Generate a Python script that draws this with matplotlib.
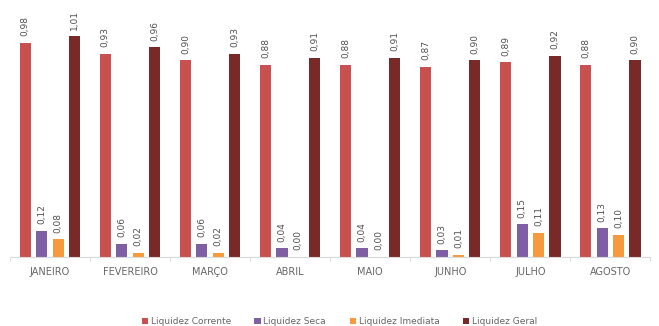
import matplotlib
matplotlib.use("Agg")
import matplotlib.pyplot as plt
import numpy as np

months = ["JANEIRO", "FEVEREIRO", "MARÇO", "ABRIL", "MAIO", "JUNHO", "JULHO", "AGOSTO"]
series_names = ["Liquidez Corrente", "Liquidez Seca", "Liquidez Imediata", "Liquidez Geral"]
corrente = [0.98, 0.93, 0.90, 0.88, 0.88, 0.87, 0.89, 0.88]
seca = [0.12, 0.06, 0.06, 0.04, 0.04, 0.03, 0.15, 0.13]
imediata = [0.08, 0.02, 0.02, 0.00, 0.00, 0.01, 0.11, 0.10]
geral = [1.01, 0.96, 0.93, 0.91, 0.91, 0.90, 0.92, 0.90]
colors = ["#C8504E", "#7E5FA3", "#F59A3E", "#772A28"]

fig = plt.figure(figsize=(6.59, 3.26), dpi=100)
ax = fig.add_axes([0.015, 0.212, 0.972, 0.775])

x = np.arange(len(months))
width = 0.14
step = 0.205
offsets = (np.arange(4) - 1.5) * step
data = [corrente, seca, imediata, geral]
for i, (vals, name, c) in enumerate(zip(data, series_names, colors)):
    bars = ax.bar(x + offsets[i], vals, width, color=c, label=name)
    for b, v in zip(bars, vals):
        ax.text(b.get_x() + b.get_width() / 2, v + 0.03, f"{v:.2f}".replace(".", ","),
                rotation=90, ha="center", va="bottom", fontsize=6.5, color="#505050")

ax.set_xlim(-0.5, len(months) - 0.5)
ax.set_ylim(0, 1.156)
ax.set_yticks([])
ax.set_xticks(x)
ax.set_xticklabels(months, fontsize=7, color="#666666")
ax.tick_params(axis="x", length=0, pad=7)
ax.set_xticks(np.arange(len(months) + 1) - 0.5, minor=True)
ax.tick_params(axis="x", which="minor", length=3, color="#D9D9D9")
for s in ["top", "right", "left"]:
    ax.spines[s].set_visible(False)
ax.spines["bottom"].set_color("#D9D9D9")

leg = fig.legend(loc="lower center", bbox_to_anchor=(0.515, -0.025), ncol=4, frameon=False,
                 fontsize=6.5, handlelength=0.7, handleheight=0.7, columnspacing=2.6,
                 handletextpad=0.3)
for t in leg.get_texts():
    t.set_color("#666666")

fig.savefig("out.png", dpi=100)
